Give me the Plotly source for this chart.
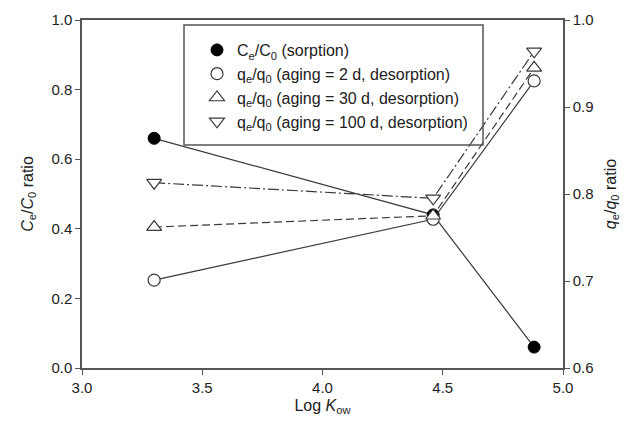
import plotly.graph_objects as go

log_kow = [3.30, 4.46, 4.88]
ce_c0_sorption = [0.66, 0.44, 0.06]
qe_q0_2d = [0.701, 0.771, 0.930]
qe_q0_30d = [0.762, 0.775, 0.945]
qe_q0_100d = [0.813, 0.795, 0.964]

names = [
    "C<sub>e</sub>/C<sub>0</sub> (sorption)",
    "q<sub>e</sub>/q<sub>0</sub> (aging = 2 d, desorption)",
    "q<sub>e</sub>/q<sub>0</sub> (aging = 30 d, desorption)",
    "q<sub>e</sub>/q<sub>0</sub> (aging = 100 d, desorption)",
]

LC = "#3a3a3a"
AX = "#555555"
FONT = "Liberation Sans, Arial, sans-serif"

series = [
    (ce_c0_sorption, "y", "solid", dict(symbol="circle", color="black", size=12, line=dict(color="black", width=1))),
    (qe_q0_2d, "y2", "solid", dict(symbol="circle", color="white", size=12, line=dict(color=LC, width=1.2))),
    (qe_q0_30d, "y2", "8px,4px", dict(symbol="triangle-up", color="white", size=13, line=dict(color=LC, width=1.2))),
    (qe_q0_100d, "y2", "11px,3px,2px,3px", dict(symbol="triangle-down", color="white", size=13, line=dict(color=LC, width=1.2))),
]

fig = go.Figure()
for vals, ax, dash, mk in series:
    fig.add_trace(go.Scatter(x=log_kow, y=vals, yaxis=ax, mode="lines",
                             line=dict(color=LC, width=1.2, dash=dash),
                             showlegend=False, hoverinfo="skip"))
for i, (vals, ax, dash, mk) in enumerate(series):
    fig.add_trace(go.Scatter(x=log_kow, y=vals, yaxis=ax, mode="markers",
                             marker=mk, name=names[i], legendgroup=f"g{i}"))

# page body has an 8px margin; compensate so the plot area lands at x 82-563, y 20-368
fig.update_layout(
    width=637, height=432,
    margin=dict(l=74, r=82, t=12, b=72),
    paper_bgcolor="white", plot_bgcolor="white",
    font=dict(family=FONT, size=15, color="#222"),
    xaxis=dict(range=[3.0, 5.0], dtick=0.5, tickformat=".1f", automargin=False,
               showline=True, linecolor=AX, linewidth=1.5, mirror=True,
               ticks="outside", ticklen=5, tickcolor=AX, showgrid=False, zeroline=False,
               title=dict(text="Log <i>K</i><sub>ow</sub>", standoff=5, font=dict(size=16))),
    yaxis=dict(range=[0, 1.0], dtick=0.2, tickformat=".1f", automargin=False,
               showline=True, linecolor=AX, linewidth=1.5,
               ticks="outside", ticklen=5, tickcolor=AX, showgrid=False, zeroline=False,
               title=dict(text="<i>C</i><sub>e</sub>/<i>C</i><sub>0</sub> ratio", standoff=14, font=dict(size=16))),
    yaxis2=dict(range=[0.6, 1.0], dtick=0.1, tickformat=".1f", overlaying="y", side="right",
                automargin=False,
                showline=True, linecolor=AX, linewidth=1.5,
                ticks="outside", ticklen=5, tickcolor=AX, showgrid=False, zeroline=False,
                title=dict(text="<i>q</i><sub>e</sub>/<i>q</i><sub>0</sub> ratio", standoff=12, font=dict(size=16))),
    legend=dict(x=(197 - 82) / 481, y=(368 - 33) / 348, xanchor="left", yanchor="top",
                bgcolor="rgba(0,0,0,0)", borderwidth=0,
                font=dict(size=16), tracegroupgap=0, itemwidth=30),
    shapes=[dict(type="rect", xref="paper", yref="paper",
                 x0=(184 - 82) / 481, x1=(483 - 82) / 481,
                 y0=(368 - 145) / 348, y1=(368 - 25) / 348,
                 line=dict(color=AX, width=1.5), fillcolor="rgba(0,0,0,0)")],
)

fig.write_html("out.html")
